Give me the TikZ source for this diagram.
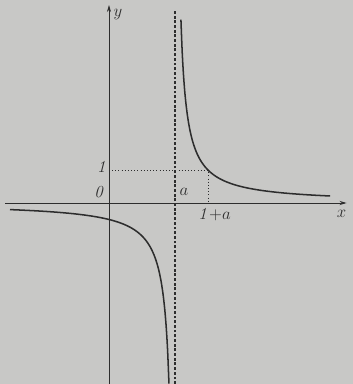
\documentclass[tikz,border=0pt]{standalone}
\usetikzlibrary{arrows.meta}
\definecolor{paper}{RGB}{200,200,198}
\definecolor{ink}{RGB}{45,45,45}
\begin{document}
\begin{tikzpicture}[x=0.99cm,y=0.99cm,
  axis/.style={draw=ink,line width=0.7pt,-{Stealth[length=6pt,width=3.5pt]}},
  curve/.style={draw=ink,line width=1.3pt},
  asym/.style={draw=ink,line width=0.9pt,dash pattern=on 2.4pt off 1.6pt},
  guide/.style={draw=ink,line width=0.7pt,dotted},
  lab/.style={text=ink,font=\Large,inner sep=1pt}]
\fill[paper] (-3.303,-5.485) rectangle (7.394,6.152);
\useasboundingbox (-3.303,-5.485) rectangle (7.394,6.152);
% coordinates
\coordinate (xl) at (-3.15,0);
\coordinate (xr) at (7.2,0);
\coordinate (yb) at (0,-5.485);
\coordinate (yt) at (0,6.0);
\coordinate (at) at (2,5.85);
\coordinate (ab) at (2,-5.485);
\coordinate (p1) at (0,1);
\coordinate (p2) at (3,1);
\coordinate (p3) at (3,0);
% axes
\draw[axis] (xl) -- (xr);
\draw[axis] (yb) -- (yt);
% asymptote
\draw[asym] (ab) -- (at);
% guides
\draw[guide] (p1) -- (p2) -- (p3);
% branches
\draw[curve] plot[domain=2.18:6.7,samples=120,smooth] (\x,{1/(\x-2)});
\draw[curve] plot[domain=-3.0:1.818,samples=120,smooth] (\x,{1/(\x-2)});
% labels
\node[lab] (ly) at (0.27,5.72) {$y$};
\node[lab] (lx) at (7.05,-0.33) {$x$};
\node[lab] (lo) at (-0.28,0.33) {$\mathit{0}$};
\node[lab] (l1) at (-0.2,1.1) {$\mathit{1}$};
\node[lab] (la) at (2.27,0.33) {$a$};
\node[lab] (l1a) at (3.2,-0.36) {$\mathit{1}{+}a$};
\end{tikzpicture}
\end{document}
